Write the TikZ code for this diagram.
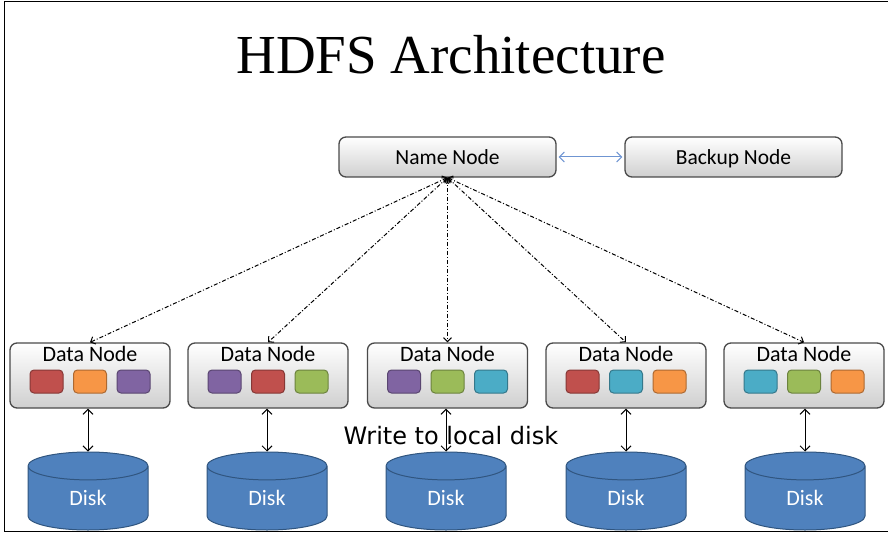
\documentclass[tikz,border=0pt]{standalone}
\usepackage{fontspec}
\setmainfont{Carlito}
\newfontfamily\titlefont{Liberation Serif}
\newfontfamily\notefont{DejaVu Sans}
\usetikzlibrary{shapes.geometric, arrows.meta}

\definecolor{boxedge}{HTML}{4A4A4A}
\definecolor{boxbottom}{HTML}{CFCFCF}
\definecolor{linkblue}{HTML}{6F95D2}
\definecolor{diskblue}{HTML}{4F81BD}
\definecolor{diskedge}{HTML}{30557F}
\definecolor{blkred}{HTML}{C0504D}
\definecolor{blkorange}{HTML}{F79646}
\definecolor{blkpurple}{HTML}{8064A2}
\definecolor{blkgreen}{HTML}{9BBB59}
\definecolor{blkaqua}{HTML}{4BACC6}

\tikzset{
	server/.style={shape=rectangle, rounded corners=7pt, draw=boxedge, line width=1.3pt,
		top color=white, bottom color=boxbottom, inner sep=0pt},
	master/.style={server, minimum width=217pt, minimum height=40pt, text height=15pt, text depth=0pt,
		font=\fontsize{21.5}{24}\selectfont},
	datanode/.style={server, minimum width=160pt, inner ysep=0pt, text height=18pt, text depth=47pt,
		font=\fontsize{22}{24}\selectfont},
	block/.style={shape=rectangle, rounded corners=4pt, minimum width=33pt, minimum height=23pt,
		inner sep=0pt, line width=1pt, draw=#1!70!black, fill=#1},
	disk/.style={shape=cylinder, shape border rotate=90, aspect=0.75, draw=diskedge, line width=1pt,
		cylinder uses custom fill, cylinder body fill=diskblue, cylinder end fill=diskblue,
		minimum width=120pt, minimum height=78pt, inner sep=0pt, text=white, anchor=shape center,
		font=\fontsize{22}{24}\selectfont},
	heartbeat/.style={dash pattern=on 4pt off 2pt on 1pt off 2pt, line width=1pt,
		{Straight Barb[length=4pt]}-{Straight Barb[length=4pt]}},
	localio/.style={line width=1pt, {Straight Barb[length=5pt]}-{Straight Barb[length=5pt]}},
}

\begin{document}
\begin{tikzpicture}[x=1pt, y=-1pt]
	\useasboundingbox (0,0) rectangle (888,534);
	% frame
	\draw[line width=1.5pt] (888,1.5) -- (4.5,1.5) -- (4.5,531.5) -- (888,531.5);

	\node[font=\titlefont\fontsize{55}{60}\selectfont] (title) at (451,55) {HDFS Architecture};

	\node[master] (name)   at (447.5,157) {Name Node};
	\node[master] (backup) at (733.5,157) {Backup Node};

	\node[datanode] (dn1) at (90,375.5)  {Data Node};
	\node[datanode] (dn2) at (268,375.5) {Data Node};
	\node[datanode] (dn3) at (447.5,375.5) {Data Node};
	\node[datanode] (dn4) at (626,375.5) {Data Node};
	\node[datanode] (dn5) at (804,375.5) {Data Node};

	% blocks
	\node[block=blkred]    (b11) at (46.5,381.5)  {};
	\node[block=blkorange] (b12) at (90,381.5)    {};
	\node[block=blkpurple] (b13) at (133.5,381.5) {};
	\node[block=blkpurple] (b21) at (224.5,381.5) {};
	\node[block=blkred]    (b22) at (268,381.5)   {};
	\node[block=blkgreen]  (b23) at (311.5,381.5) {};
	\node[block=blkpurple] (b31) at (404,381.5)   {};
	\node[block=blkgreen]  (b32) at (447.5,381.5) {};
	\node[block=blkaqua]   (b33) at (491,381.5)   {};
	\node[block=blkred]    (b41) at (582.5,381.5) {};
	\node[block=blkaqua]   (b42) at (626,381.5)   {};
	\node[block=blkorange] (b43) at (669.5,381.5) {};
	\node[block=blkaqua]   (b51) at (760.5,381.5) {};
	\node[block=blkgreen]  (b52) at (804,381.5)   {};
	\node[block=blkorange] (b53) at (847.5,381.5) {};

	\node[disk] (disk1) at (88,491)  {Disk};
	\node[disk] (disk2) at (267,491) {Disk};
	\node[disk] (disk3) at (446,491) {Disk};
	\node[disk] (disk4) at (626,491) {Disk};
	\node[disk] (disk5) at (805,491) {Disk};

	\node[font=\notefont\fontsize{24}{28}\selectfont] (write) at (451,436) {Write to local disk};

	\path [linkblue, line width=1pt, {Straight Barb[length=5pt]}-{Straight Barb[length=5pt]},
		shorten <=2pt, shorten >=2pt] (name) edge (backup);

	\path [heartbeat] (name.south) edge (dn1.north);
	\path [heartbeat] (name.south) edge (dn2.north);
	\path [heartbeat] (name.south) edge (dn3.north);
	\path [heartbeat] (name.south) edge (dn4.north);
	\path [heartbeat] (name.south) edge (dn5.north);

	\path [localio] (dn1.south -| disk1.north) edge (disk1.north);
	\path [localio] (dn2.south -| disk2.north) edge (disk2.north);
	\path [localio] (dn3.south -| disk3.north) edge (disk3.north);
	\path [localio] (dn4.south -| disk4.north) edge (disk4.north);
	\path [localio] (dn5.south -| disk5.north) edge (disk5.north);
\end{tikzpicture}
\end{document}
